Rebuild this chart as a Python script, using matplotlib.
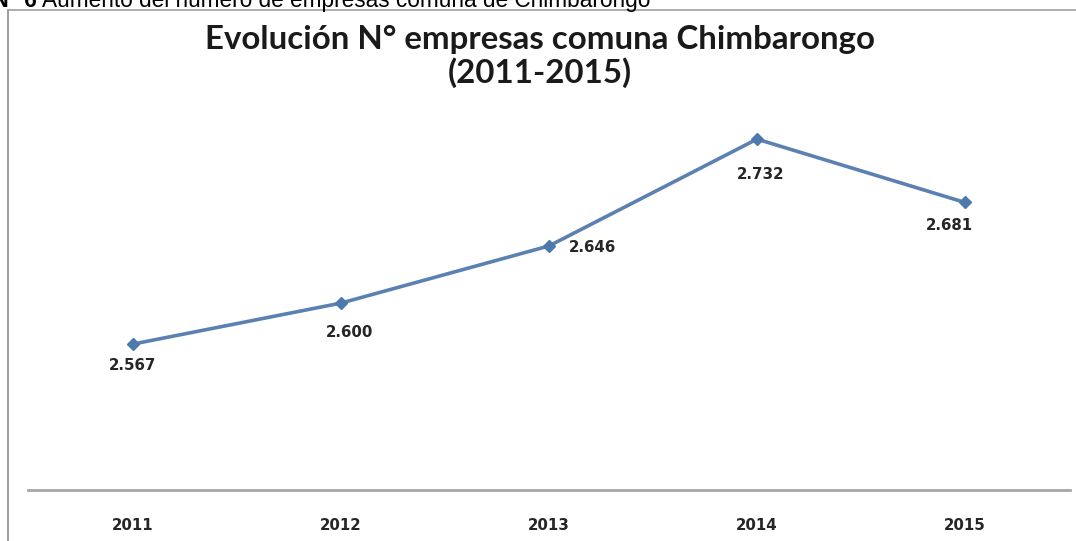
import matplotlib.pyplot as plt
from matplotlib.lines import Line2D

years = ['2011', '2012', '2013', '2014', '2015']
empresas = [2567, 2600, 2646, 2732, 2681]
etiquetas = ['2.567', '2.600', '2.646', '2.732', '2.681']
# label offsets in pixels (dx, dy) relative to each point
offsets = [(0, -21), (9, -29), (44, -2), (4, -35), (-16, -23)]

W, H = 1076, 541
fig = plt.figure(figsize=(W / 100, H / 100), dpi=100)
fig.patch.set_facecolor('white')

# frame of the pasted chart (cut at right and bottom)
fig.add_artist(Line2D([8 / W, 8 / W], [0, 1 - 10 / H], color='#8c8c8c', lw=1.2,
                      transform=fig.transFigure))
fig.add_artist(Line2D([8 / W, 1], [1 - 10 / H, 1 - 10 / H], color='#a0a0a0', lw=1.2,
                      transform=fig.transFigure))

# caption of the document, partly cut at the top
fig.text(37 / W, 1 - 7 / H, 'Gráfico N° 6', ha='right', va='baseline',
         fontsize=16.3, fontweight='bold', family='Liberation Sans')
fig.text(42 / W, 1 - 7 / H, 'Aumento del número de empresas comuna de Chimbarongo',
         ha='left', va='baseline', fontsize=16.3, family='Liberation Sans')

ax = fig.add_axes([28 / W, (H - 490) / H, (1070 - 28) / W, (490 - 100) / H])
x = list(range(len(years)))
ax.plot(x, empresas, color='#5b80b2', lw=2.6, marker='D', markersize=6,
        markerfacecolor='#4f79ad', markeredgecolor='#4f79ad')
ax.set_xlim(-0.505, 4.505)
ax.set_ylim(2449.5, 2763.5)

for xi, yi, lab, (dx, dy) in zip(x, empresas, etiquetas, offsets):
    ax.annotate(lab, (xi, yi), xytext=(dx, dy), textcoords='offset pixels',
                ha='center', va='center', fontsize=10.8, fontweight='bold',
                color='#262626', family='DejaVu Sans')

for s in ['top', 'right', 'left']:
    ax.spines[s].set_visible(False)
ax.spines['bottom'].set_color('#a6a6a6')
ax.spines['bottom'].set_linewidth(2)
ax.set_yticks([])
ax.set_xticks(x)
ax.set_xticklabels(years, fontsize=10.8, fontweight='bold', family='DejaVu Sans',
                   color='#262626')
ax.tick_params(axis='x', length=0, pad=20)
ax.patch.set_alpha(0)

fig.text(540 / W, 1 - 39 / H, 'Evolución N° empresas comuna Chimbarongo',
         ha='center', va='center', fontsize=23.8, fontweight='bold', family='Lato',
         color='#1a1a1a')
fig.text(540 / W, 1 - 73 / H, '(2011-2015)', ha='center', va='center',
         fontsize=23.8, fontweight='bold', family='Lato', color='#1a1a1a')

fig.savefig('out.png', dpi=100)
